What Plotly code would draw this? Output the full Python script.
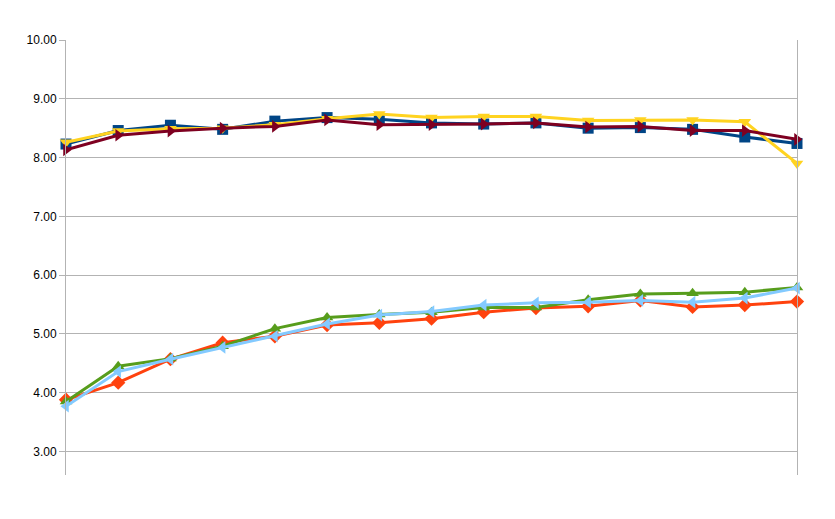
import plotly.graph_objects as go

points = list(range(15))

s1 = [8.23, 8.46, 8.55, 8.48, 8.62, 8.68, 8.65, 8.59, 8.57, 8.59, 8.50, 8.51, 8.48, 8.35, 8.24]
s2 = [3.88, 4.17, 4.57, 4.85, 4.96, 5.15, 5.19, 5.26, 5.37, 5.44, 5.47, 5.57, 5.46, 5.49, 5.55]
s3 = [8.26, 8.45, 8.49, 8.50, 8.56, 8.66, 8.74, 8.68, 8.70, 8.70, 8.63, 8.64, 8.64, 8.61, 7.90]
s4 = [3.85, 4.45, 4.58, 4.79, 5.09, 5.28, 5.33, 5.37, 5.45, 5.45, 5.58, 5.68, 5.69, 5.71, 5.79]
s5 = [8.13, 8.38, 8.45, 8.50, 8.53, 8.64, 8.56, 8.56, 8.57, 8.59, 8.52, 8.53, 8.46, 8.46, 8.31]
s6 = [3.77, 4.36, 4.57, 4.77, 4.96, 5.17, 5.32, 5.38, 5.49, 5.53, 5.54, 5.57, 5.54, 5.61, 5.78]

series = [
    (s1, '#004586', 'square'),
    (s2, '#ff420e', 'diamond'),
    (s3, '#ffd320', 'triangle-down'),
    (s4, '#579d1c', 'triangle-up'),
    (s5, '#7e0021', 'triangle-right'),
    (s6, '#83caff', 'triangle-left'),
]

fig = go.Figure()
for vals, color, sym in series:
    fig.add_trace(go.Scatter(
        x=points, y=vals, mode='lines+markers',
        line=dict(color=color, width=3),
        marker=dict(symbol=sym, size=11, color=color),
        showlegend=False, cliponaxis=False
    ))

# page body has an 8px margin, so the figure is a bit smaller than the window
fig.update_layout(
    width=827, height=511,
    margin=dict(l=58, r=38, t=32, b=44),
    paper_bgcolor='white', plot_bgcolor='white',
    font=dict(family='Liberation Sans', size=12, color='black'),
)
fig.update_xaxes(
    range=[0, 14], showticklabels=False, showgrid=False,
    zeroline=False, showline=False, ticks=''
)
fig.update_yaxes(
    range=[2.6, 10], tick0=3, dtick=1, tickformat='.2f',
    showgrid=True, gridcolor='#b3b3b3', gridwidth=1,
    zeroline=False, showline=True, mirror=True, linecolor='#b3b3b3', linewidth=1,
    ticks='outside', ticklen=6, tickcolor='#b3b3b3'
)

fig.write_html("out.html")
